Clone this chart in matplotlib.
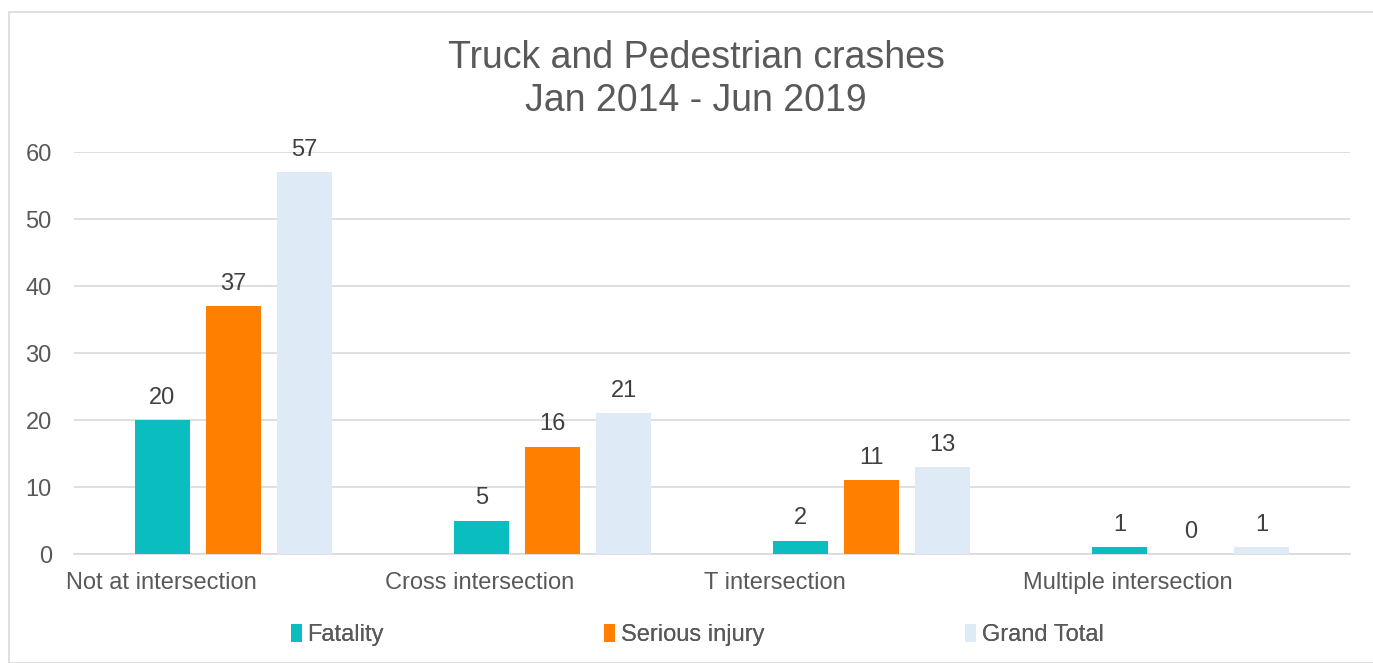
import matplotlib
matplotlib.use("Agg")
from matplotlib import pyplot as plt
from matplotlib.patches import Rectangle
import numpy as np

# Data
categories = ["Not at intersection", "Cross intersection", "T intersection", "Multiple intersection"]
fatality = [20, 5, 2, 1]
serious = [37, 16, 11, 0]
grand_total = [57, 21, 13, 1]
series_names = ["Fatality", "Serious injury", "Grand Total"]
colors = ["#0ABDBF", "#FF8000", "#DEEBF7"]

plt.rcParams["font.family"] = ["Liberation Sans", "DejaVu Sans"]

fig = plt.figure(figsize=(13.73, 6.63), dpi=100)
ax = fig.add_axes([0.0539, 0.1644, 0.9294, 0.6063])

#Outer border of the chart area
fig.patches.append(Rectangle((9/1373, 0), 1.0, 1 - 12/663, transform=fig.transFigure,
                             fill=False, edgecolor="#D9D9D9", linewidth=1.2))

x = np.arange(len(categories))
width = 0.172
step = 0.2226
all_series = [fatality, serious, grand_total]
handles = []
for i, vals in enumerate(all_series):
    bars = ax.bar(x + (i - 1) * step, vals, width, color=colors[i], label=series_names[i], zorder=3)
    handles.append(bars)
    for b, v in zip(bars, vals):
        ax.text(b.get_x() + b.get_width() / 2, v + 1.7, str(v), ha="center", va="bottom",
                fontsize=17, color="#404040")

ax.set_xlim(-0.5, 3.5)
ax.set_ylim(0, 60)
ax.set_yticks(range(0, 61, 10))
ax.grid(True, axis="y", color="#D9D9D9", linewidth=1.2, zorder=0)
for s in ["top", "right", "left"]:
    ax.spines[s].set_visible(False)
ax.spines["bottom"].set_color("#D9D9D9")
ax.spines["bottom"].set_linewidth(1.2)
ax.tick_params(axis="both", length=0, labelsize=17, labelcolor="#595959")
ax.tick_params(axis="y", pad=16)
ax.set_xticks([])

#Category labels, Excel put them left-ish in each slot
for xi, name in zip(x, categories):
    ax.text(xi - 0.525, -4.3, name, ha="left", va="center", fontsize=17, color="#595959")

fig.text(0.507, 0.94, "Truck and Pedestrian crashes\nJan 2014 - Jun 2019", ha="center", va="top",
         fontsize=27, color="#595959", linespacing=1.25)

#Legend: one entry per slot
leg_x = [291/1373, 604/1373, 965/1373]
for h, name, lx in zip(handles, series_names, leg_x):
    leg = fig.legend([h], [name], loc="center left", bbox_to_anchor=(lx, 0.042), frameon=False,
                     fontsize=17, labelcolor="#595959", handlelength=0.45, handleheight=0.8,
                     handletextpad=0.25, borderpad=0, borderaxespad=0)
    fig.add_artist(leg)

fig.savefig("out.png", dpi=100)
